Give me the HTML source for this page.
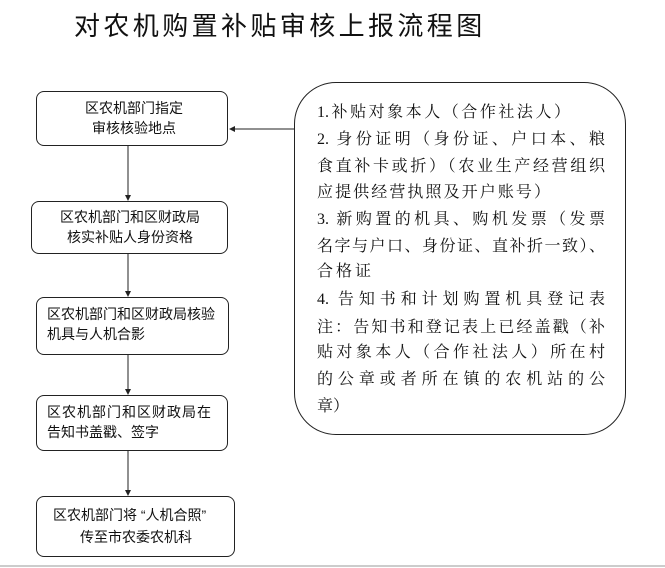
<!DOCTYPE html>
<html><head><meta charset="utf-8"><style>
body{margin:0;width:665px;height:568px;background:#fff;position:relative;overflow:hidden;font-family:"Liberation Sans","Noto Sans CJK SC",sans-serif;}
.t{position:absolute;left:74px;top:6px;font-size:26px;letter-spacing:3.4px;color:#111;white-space:nowrap;font-family:"Liberation Sans","Noto Sans CJK SC",sans-serif;}
.b{position:absolute;border:1.3px solid #222;border-radius:8px;box-sizing:border-box;font-size:14px;line-height:20px;color:#111;}
.b div{position:absolute;white-space:nowrap;}
.r{position:absolute;left:294px;top:82px;width:332px;height:353px;border:1.3px solid #222;border-radius:42px;box-sizing:border-box;}
.l{position:absolute;left:317px;font-size:16px;line-height:20px;color:#111;white-space:nowrap;font-family:"Liberation Serif","Noto Serif CJK SC",serif;text-align:justify;text-align-last:justify;}
</style></head><body>
<div class="t">对农机购置补贴审核上报流程图</div>

<div class="b" style="left:36px;top:91px;width:192px;height:55px;"><div style="left:48px;top:6px">区农机部门指定</div><div style="left:55px;top:26px">审核核验地点</div></div>
<div class="b" style="left:31px;top:201px;width:197px;height:53px;"><div style="left:28px;top:5px">区农机部门和区财政局</div><div style="left:35px;top:25px">核实补贴人身份资格</div></div>
<div class="b" style="left:36px;top:297px;width:193px;height:58px;"><div style="left:10px;top:6px">区农机部门和区财政局核验</div><div style="left:10px;top:26px">机具与人机合影</div></div>
<div class="b" style="left:36px;top:395px;width:192px;height:56px;"><div style="left:10px;top:6px;letter-spacing:1px">区农机部门和区财政局在</div><div style="left:10px;top:26px">告知书盖戳、签字</div></div>
<div class="b" style="left:36px;top:496px;width:199px;height:61px;"><div style="left:16px;top:8px">区农机部门将 “人机合照”</div><div style="left:43px;top:30px">传至市农委农机科</div></div>

<svg width="665" height="568" style="position:absolute;left:0;top:0" fill="#222" stroke="#222">
<line x1="128" y1="146" x2="128" y2="198" stroke-width="1"/><path d="M125,195 L128,201 L131,195Z" stroke="none"/>
<line x1="128" y1="254" x2="128" y2="294" stroke-width="1"/><path d="M125,291 L128,297 L131,291Z" stroke="none"/>
<line x1="128" y1="355" x2="128" y2="392" stroke-width="1"/><path d="M125,389 L128,395 L131,389Z" stroke="none"/>
<line x1="128" y1="451" x2="128" y2="493" stroke-width="1"/><path d="M125,490 L128,496 L131,490Z" stroke="none"/>
<line x1="294" y1="129" x2="232" y2="129" stroke-width="1"/><path d="M235,126 L229,129 L235,132Z" stroke="none"/>
<line x1="0" y1="566" x2="665" y2="566" stroke="#ccc" stroke-width="2"/>
</svg>

<div class="r"></div>
<div class="l" style="top:103px;width:253px">1.补贴对象本人（合作社法人）</div>
<div class="l" style="top:130px;width:288px">2. 身份证明（身份证、户口本、粮</div>
<div class="l" style="top:157px;width:288px">食直补卡或折）（农业生产经营组织</div>
<div class="l" style="top:183px;width:233px">应提供经营执照及开户账号）</div>
<div class="l" style="top:210px;width:288px">3. 新购置的机具、购机发票（发票</div>
<div class="l" style="top:237px;width:288px">名字与户口、身份证、直补折一致）、</div>
<div class="l" style="top:262px;width:54px">合格证</div>
<div class="l" style="top:290px;width:288px">4. 告知书和计划购置机具登记表</div>
<div class="l" style="top:318px;width:288px">注：告知书和登记表上已经盖戳（补</div>
<div class="l" style="top:343px;width:288px">贴对象本人（合作社法人）所在村</div>
<div class="l" style="top:370px;width:288px">的公章或者所在镇的农机站的公</div>
<div class="l" style="top:397px;width:30px">章）</div>
</body></html>
